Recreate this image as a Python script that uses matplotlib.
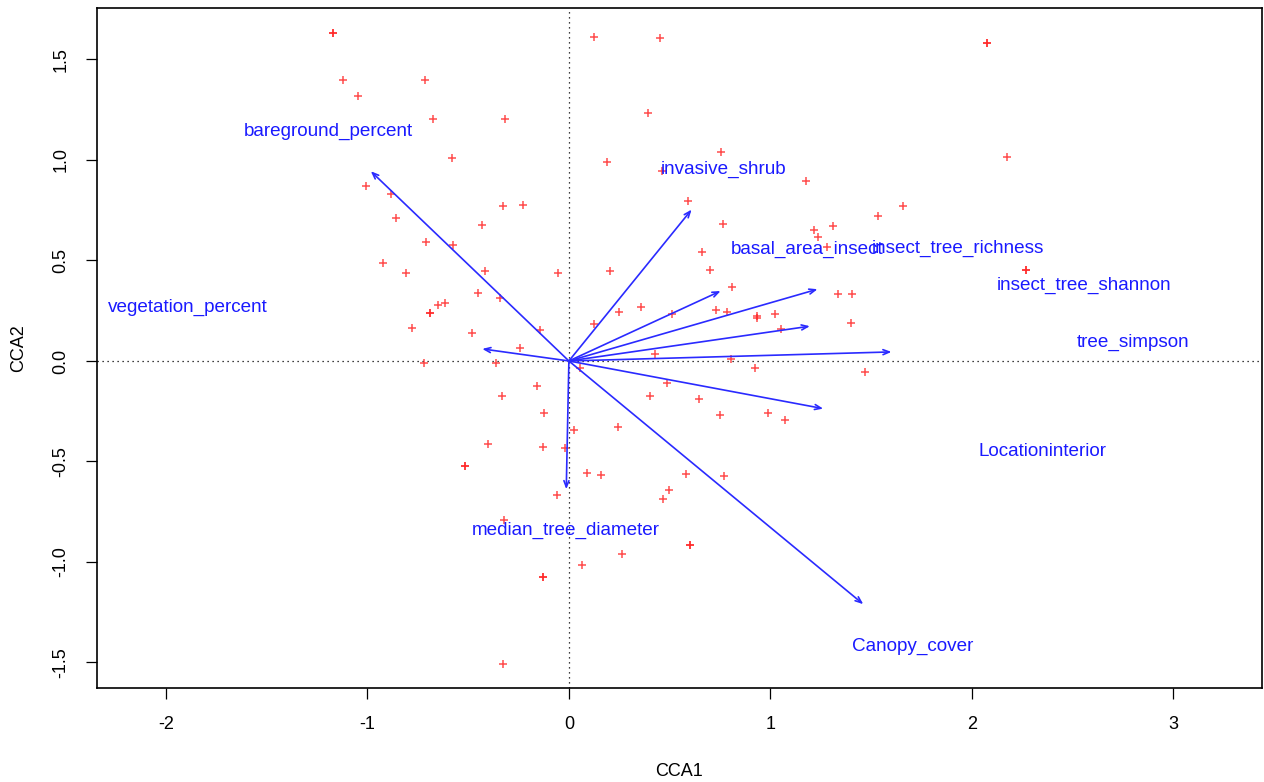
import matplotlib
matplotlib.use("Agg")
import matplotlib.pyplot as plt

# Site scores (CCA1, CCA2)
site_x = [-1.173, -1.173, -1.12, -1.046, -1.006, -0.882, -0.859, -0.716, -0.673, -0.318,
          -0.581, -0.329, -0.227, -0.433, 0.126, 0.45, 0.395, 0.189, 0.46, 0.754,
          1.175, 0.592, 0.764, 1.658, 1.532, 1.312, 1.219, 1.236, 2.073, 2.073,
          2.172, -0.921, -0.711, -0.576, -0.809, -0.415, -0.055, 0.203, -0.453, -0.342,
          -0.65, -0.615, -0.688, -0.688, 0.251, 0.356, 0.511, -0.778, -0.48, -0.142,
          0.126, -0.243, 0.428, -0.721, -0.364, 0.056, -0.157, 0.485, -0.331, 0.404,
          -0.124, 0.243, 0.023, -0.399, -0.129, -0.017, 1.279, 0.66, 0.701, 0.809,
          1.337, 1.406, 0.728, 0.787, 0.933, 0.933, 1.021, 1.398, 1.055, 0.806,
          0.923, 1.471, 0.647, 0.749, 0.986, 1.074, 2.271, 2.271, -0.516, -0.516,
          0.088, 0.16, -0.058, 0.495, 0.467, -0.323, 0.265, 0.066, -0.129, -0.129,
          -0.329, 0.582, 0.771, 0.599, 0.599]
site_y = [1.63, 1.63, 1.40, 1.32, 0.87, 0.83, 0.71, 1.397, 1.204, 1.204,
          1.01, 0.771, 0.778, 0.677, 1.612, 1.605, 1.232, 0.988, 0.947, 1.04,
          0.894, 0.795, 0.683, 0.77, 0.723, 0.67, 0.65, 0.618, 1.582, 1.582,
          1.015, 0.489, 0.594, 0.577, 0.436, 0.449, 0.438, 0.449, 0.34, 0.315,
          0.28, 0.287, 0.24, 0.24, 0.245, 0.269, 0.235, 0.164, 0.141, 0.153,
          0.183, 0.066, 0.035, -0.012, -0.012, -0.033, -0.123, -0.111, -0.174, -0.174,
          -0.257, -0.327, -0.345, -0.415, -0.428, -0.434, 0.569, 0.542, 0.454, 0.368,
          0.333, 0.333, 0.252, 0.245, 0.224, 0.215, 0.234, 0.187, 0.159, 0.012,
          -0.037, -0.053, -0.187, -0.269, -0.257, -0.294, 0.454, 0.454, -0.521, -0.521,
          -0.556, -0.567, -0.665, -0.643, -0.685, -0.793, -0.959, -1.017, -1.075, -1.075,
          -1.507, -0.561, -0.572, -0.917, -0.917]

# Biplot arrows
var_names = ["bareground_percent", "vegetation_percent", "invasive_shrub",
             "basal_area_insect", "insect_tree_richness", "insect_tree_shannon",
             "tree_simpson", "Locationinterior", "Canopy_cover", "median_tree_diameter"]
arrow_x = [-0.983, -0.43, 0.609, 0.753, 1.234, 1.196, 1.601, 1.262, 1.461, -0.013]
arrow_y = [0.944, 0.06, 0.753, 0.348, 0.357, 0.173, 0.045, -0.237, -1.21, -0.638]
label_x = [-1.194, -1.891, 0.767, 1.184, 1.931, 2.556, 2.799, 2.35, 1.705, -0.017]
label_y = [1.144, 0.264, 0.955, 0.557, 0.562, 0.378, 0.09, -0.448, -1.418, -0.841]

x_ticks = [-2, -1, 0, 1, 2, 3]
y_ticks = [-1.5, -1.0, -0.5, 0.0, 0.5, 1.0, 1.5]
y_tick_labels = ["-1.5", "-1.0", "-0.5", "0.0", "0.5", "1.0", "1.5"]

plt.rcParams['font.family'] = ['Liberation Sans', 'DejaVu Sans']

fig = plt.figure(figsize=(12.64, 7.82), dpi=100)
ax = fig.add_axes([97/1264, 1 - 688/782, (1262-97)/1264, (688-8)/782])

ax.set_xlim(-2.342, 3.44)
ax.set_ylim(-1.627, 1.756)

ax.axhline(0, color='black', linestyle=(0, (1, 3)), linewidth=0.9, zorder=1)
ax.axvline(0, color='black', linestyle=(0, (1, 3)), linewidth=0.9, zorder=1)

ax.plot(site_x, site_y, linestyle='none', marker='+', color='#ff2020',
        markersize=6, markeredgewidth=1.1, alpha=0.8, zorder=2)

for ax_, ay_ in zip(arrow_x, arrow_y):
    ax.annotate("", xy=(ax_, ay_), xytext=(0, 0),
                arrowprops=dict(arrowstyle='->,head_length=0.45,head_width=0.18',
                                color='#2a2aff', lw=1.2, shrinkA=0, shrinkB=0),
                zorder=3)

for name, lx, ly in zip(var_names, label_x, label_y):
    ax.text(lx, ly, name, color='#1a1aff', fontsize=13.6, ha='center', va='center', zorder=4)

ax.set_xticks(x_ticks)
ax.set_xticklabels([str(t) for t in x_ticks])
ax.set_yticks(y_ticks)
ax.set_yticklabels(y_tick_labels, rotation=90, va='center')
ax.tick_params(axis='both', direction='out', length=8, width=0.9, labelsize=13, pad=12)

for s in ax.spines.values():
    s.set_linewidth(1.2)

ax.set_xlabel("CCA1", fontsize=13, labelpad=22)
ax.set_ylabel("CCA2", fontsize=13, labelpad=18)

fig.savefig("out.png", dpi=100)
